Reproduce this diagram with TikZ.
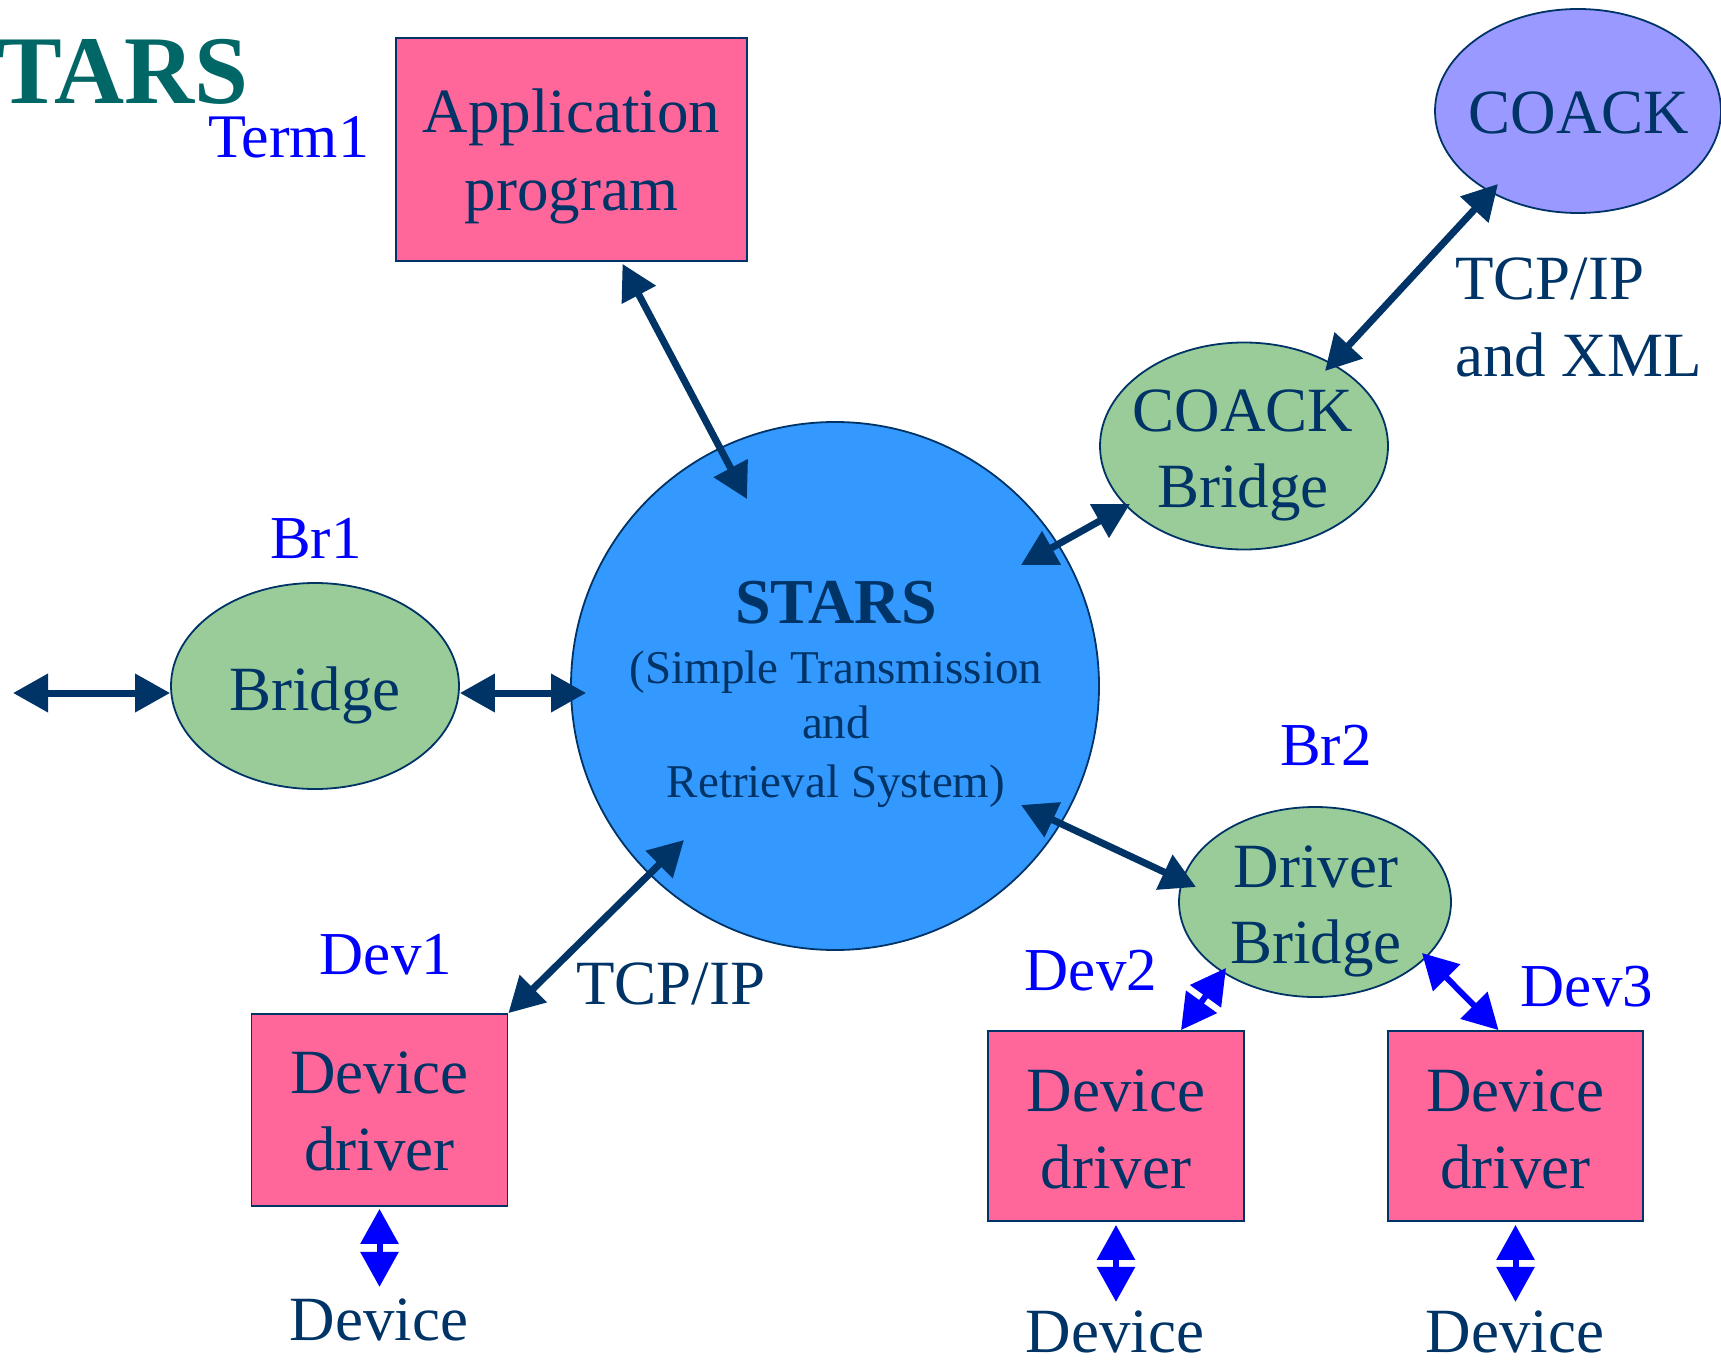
\documentclass[tikz,border=0pt]{standalone}
\usepackage{fontspec}
\setmainfont{Liberation Serif}
\usetikzlibrary{arrows.meta,shapes.geometric,calc}
\definecolor{navy}{HTML}{003366}
\definecolor{pinkc}{HTML}{FF6699}
\definecolor{greenc}{HTML}{99CC99}
\definecolor{bluec}{HTML}{3399FF}
\definecolor{lavc}{HTML}{9999FF}
\definecolor{tealc}{HTML}{006666}
\definecolor{labc}{HTML}{0000FF}
\tikzset{
  boxnode/.style={draw=navy, line width=1.8pt, fill=pinkc, inner sep=0pt},
  ellnode/.style={ellipse, draw=navy, line width=1.8pt, inner sep=0pt},
  txt/.style={text=navy, font=\fontsize{63}{76}\selectfont, inner sep=0pt},
  smalltxt/.style={text=navy, font=\fontsize{47}{57}\selectfont, inner sep=0pt},
  lab/.style={text=labc, font=\fontsize{61}{72}\selectfont, inner sep=0pt},
  darr/.style={draw=navy, line width=7pt, {Triangle[length=35pt,width=37pt]}-{Triangle[length=35pt,width=37pt]}},
  barr/.style={draw=labc, line width=6pt, {Triangle[length=35pt,width=37pt]}-{Triangle[length=35pt,width=37pt]}},
}
\begin{document}
\begin{tikzpicture}[x=1pt,y=-1pt]
\useasboundingbox (0,0) rectangle (1721,1364);

% title
\node[anchor=base west, inner sep=0pt, text=tealc, font=\fontsize{97}{97}\selectfont\bfseries] (title) at (-3,104) {TARS};
\node[lab, anchor=base west, font=\fontsize{62}{72}\selectfont] (term1) at (208,158) {Term1};

% application program
\node[boxnode, minimum width=351pt, minimum height=223pt] (app) at (571.5,149.5) {};
\node[txt, anchor=base] (appt1) at (571.5,133) {Application};
\node[txt, anchor=base] (appt2) at (571.5,211) {program};

% COACK
\node[ellnode, fill=lavc, minimum width=286pt, minimum height=204pt] (coack) at (1578,111) {};
\node[txt, anchor=base] (coackt) at (1579,134) {COACK};

% COACK bridge
\node[ellnode, fill=greenc, minimum width=288pt, minimum height=207pt] (cbridge) at (1244,446) {};
\node[txt, anchor=base] (cbt1) at (1243,431) {COACK};
\node[txt, anchor=base] (cbt2) at (1243,507) {Bridge};

\node[txt, anchor=base west] (tcpxml1) at (1455,300) {TCP/IP};
\node[txt, anchor=base west] (tcpxml2) at (1455,376) {and XML};

% STARS
\node[circle, draw=navy, line width=1.8pt, fill=bluec, minimum size=528pt, inner sep=0pt] (stars) at (835,686) {};
\node[txt, anchor=base, font=\fontsize{64}{76}\selectfont\bfseries] (starst) at (836,623) {STARS};
\node[smalltxt, anchor=base] (starss1) at (836,683) {(Simple Transmission};
\node[smalltxt, anchor=base] (starss2) at (836,738) {and};
\node[smalltxt, anchor=base] (starss3) at (836,797) {Retrieval System)};

% Bridge 1
\node[lab, anchor=base] (br1) at (316,558) {Br1};
\node[ellnode, fill=greenc, minimum width=288pt, minimum height=206pt] (bridge1) at (315,686) {};
\node[txt, anchor=base] (bridge1t) at (315,710) {Bridge};
\coordinate (lfree) at (13,693);

% Driver bridge
\node[lab, anchor=base] (br2) at (1326,765) {Br2};
\node[ellnode, fill=greenc, minimum width=272pt, minimum height=190pt] (dbridge) at (1315,902) {};
\node[txt, anchor=base] (dbt1) at (1316,887) {Driver};
\node[txt, anchor=base] (dbt2) at (1316,963) {Bridge};

% Device driver 1
\node[lab, anchor=base] (dev1) at (386,974) {Dev1};
\node[boxnode, minimum width=256pt, minimum height=192pt] (dd1) at (379.5,1110) {};
\node[txt, anchor=base] (dd1t1) at (379.5,1093) {Device};
\node[txt, anchor=base] (dd1t2) at (379.5,1170) {driver};
\node[txt, anchor=base west] (tcp1) at (576,1004) {TCP/IP};
\node[txt, anchor=base] (device1) at (379,1340) {Device};

% Device driver 2
\node[lab, anchor=base] (dev2) at (1091,990) {Dev2};
\node[boxnode, minimum width=256pt, minimum height=190pt] (dd2) at (1116,1126) {};
\node[txt, anchor=base] (dd2t1) at (1116,1111) {Device};
\node[txt, anchor=base] (dd2t2) at (1116,1188) {driver};
\node[txt, anchor=base] (device2) at (1115,1352) {Device};

% Device driver 3
\node[lab, anchor=base] (dev3) at (1587,1006) {Dev3};
\node[boxnode, minimum width=255pt, minimum height=190pt] (dd3) at (1515.5,1126) {};
\node[txt, anchor=base] (dd3t1) at (1515.5,1111) {Device};
\node[txt, anchor=base] (dd3t2) at (1515.5,1188) {driver};
\node[txt, anchor=base] (device3) at (1515,1352) {Device};

% connectors
\draw[darr] (lfree) -- ([yshift=-7pt]bridge1.west);
\draw[darr] ([yshift=-7pt]bridge1.east) -- ([yshift=-7pt,xshift=16pt]stars.west);
\draw[darr] ([xshift=51pt,yshift=-2pt]app.south) -- ($(stars.center)+(-88,-187)$);
\draw[darr] ($(coack.center)+(-80,73)$) -- ($(cbridge.center)+(81,-75)$);
\draw[darr] ($(cbridge.center)+(-114,58)$) -- ($(stars.center)+(186,-121)$);
\draw[darr] ($(stars.center)+(186,119)$) -- ($(dbridge.center)+(-119,-15)$);
\draw[darr] ($(stars.center)+(-151,154)$) -- (dd1.north east);

\draw[barr] ([xshift=65pt]dd2.north) -- ($(dbridge.center)+(-89,66)$);
\draw[barr] ([xshift=-17pt]dd3.north) -- ($(dbridge.center)+(107,51)$);
\draw[barr] ([yshift=-2pt]dd1.south) -- ($(dd1.south)+(0,80)$);
\draw[barr] ([yshift=-3pt]dd2.south) -- ($(dd2.south)+(0,80)$);
\draw[barr] ([yshift=-3pt]dd3.south) -- ($(dd3.south)+(0,80)$);
\end{tikzpicture}
\end{document}
